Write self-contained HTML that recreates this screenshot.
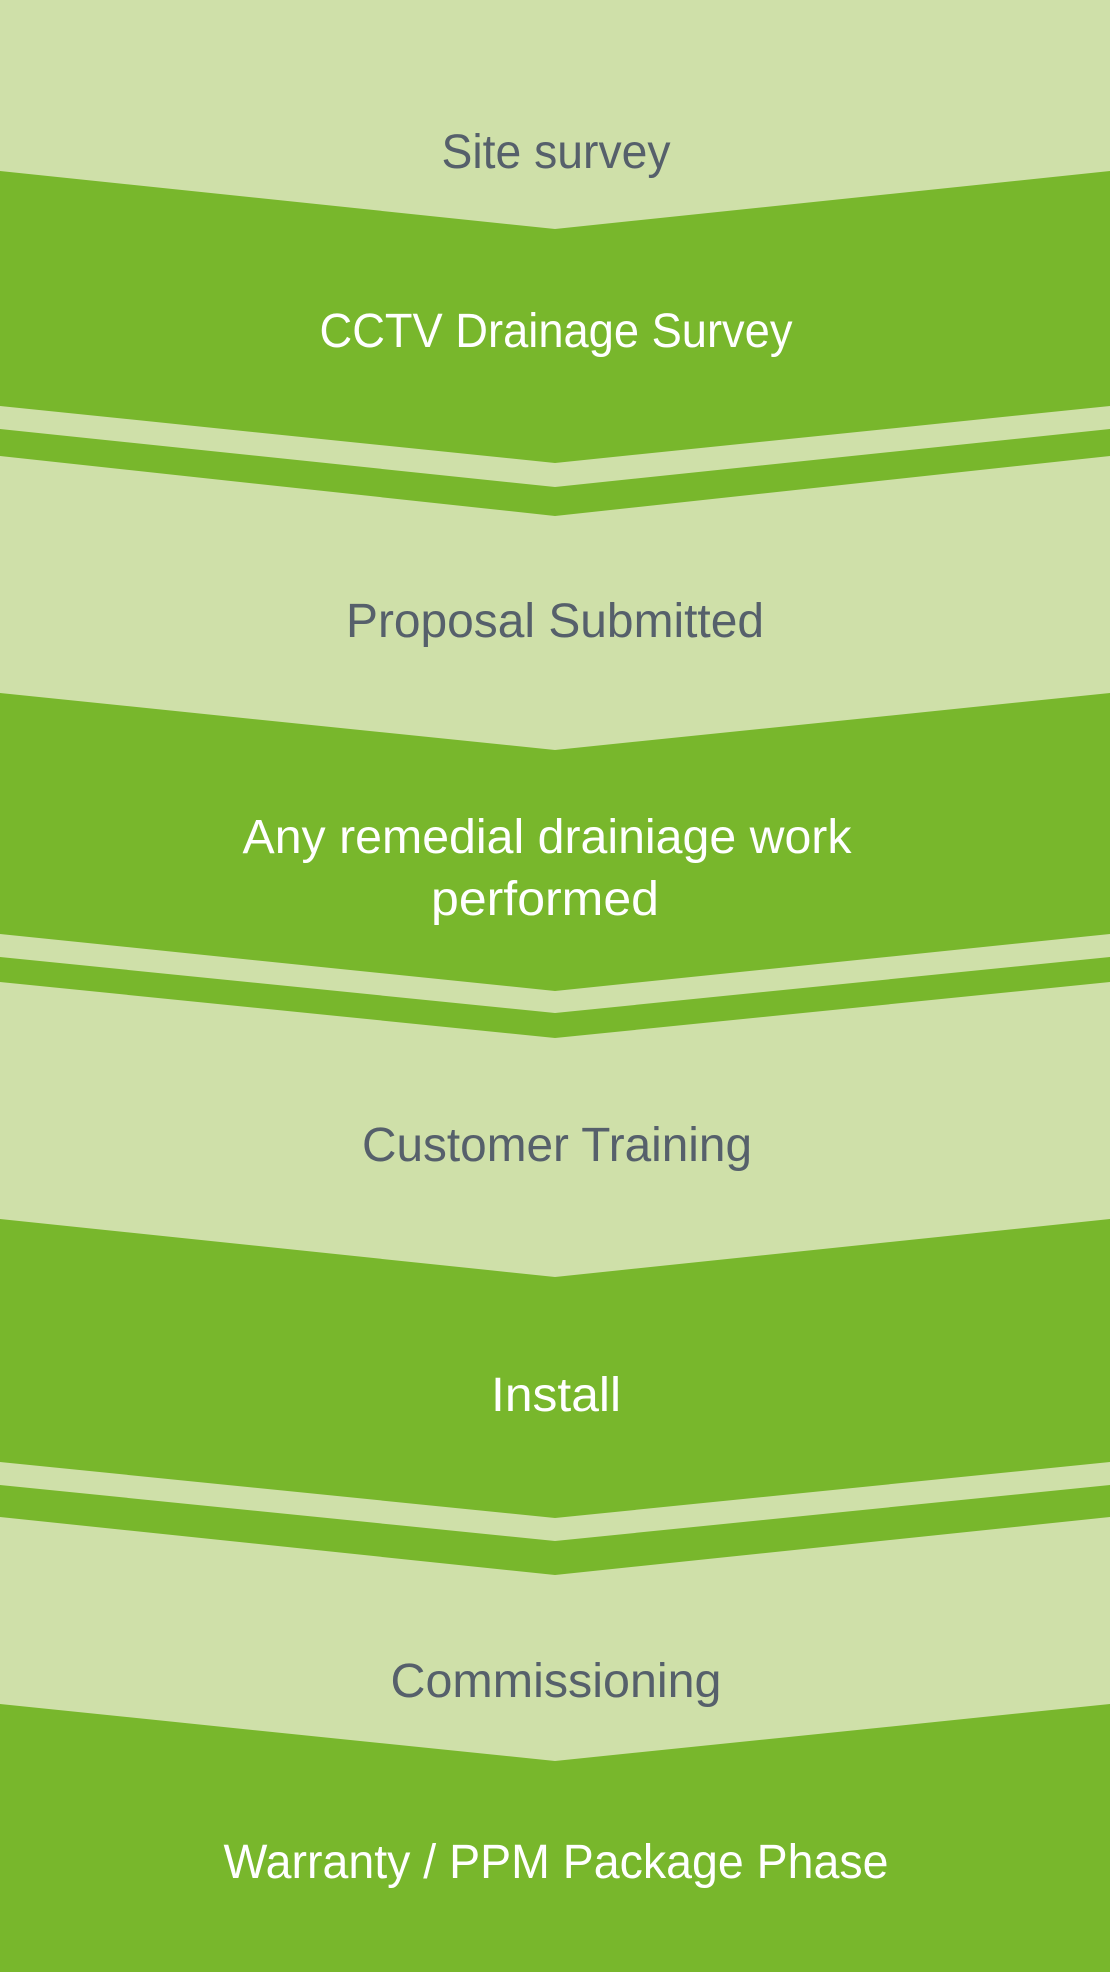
<!DOCTYPE html>
<html><head><meta charset="utf-8"><style>
html,body{margin:0;padding:0;background:#cfe0a9;}
svg{display:block}
text{font-family:"Liberation Sans",sans-serif;font-size:48px;text-anchor:middle}
.d{fill:#56606b}.w{fill:#fff}
</style></head><body>
<svg width="1110" height="1972" viewBox="0 0 1110 1972" xmlns="http://www.w3.org/2000/svg">
<rect width="1110" height="1972" fill="#cfe0a9"/>
<g fill="#78b72c">
<polygon points="0,171 555,229 1110,171 1110,406 555,463 0,406"/>
<polygon points="0,429 555,487 1110,429 1110,456 555,516 0,456"/>
<polygon points="0,693 555,750 1110,693 1110,934 555,991 0,934"/>
<polygon points="0,957 555,1013 1110,957 1110,982 555,1038 0,982"/>
<polygon points="0,1219 555,1277 1110,1219 1110,1462 555,1518 0,1462"/>
<polygon points="0,1485 555,1541 1110,1485 1110,1517 555,1575 0,1517"/>
<polygon points="0,1704 555,1761 1110,1704 1110,1972 0,1972"/>
</g>
<text class="d" x="556" y="168" textLength="229" lengthAdjust="spacingAndGlyphs">Site survey</text>
<text class="w" x="556" y="347" textLength="473" lengthAdjust="spacingAndGlyphs">CCTV Drainage Survey</text>
<text class="d" x="555" y="637" textLength="418" lengthAdjust="spacingAndGlyphs">Proposal Submitted</text>
<text class="w" x="547" y="853" textLength="609" lengthAdjust="spacingAndGlyphs">Any remedial drainiage work</text>
<text class="w" x="545" y="915" textLength="228" lengthAdjust="spacingAndGlyphs">performed</text>
<text class="d" x="557" y="1161" textLength="390" lengthAdjust="spacingAndGlyphs">Customer Training</text>
<text class="w" x="556" y="1411" textLength="130" lengthAdjust="spacingAndGlyphs">Install</text>
<text class="d" x="556" y="1697" textLength="331" lengthAdjust="spacingAndGlyphs">Commissioning</text>
<text class="w" x="556" y="1878" textLength="665" lengthAdjust="spacingAndGlyphs">Warranty / PPM Package Phase</text>
</svg>
</body></html>
